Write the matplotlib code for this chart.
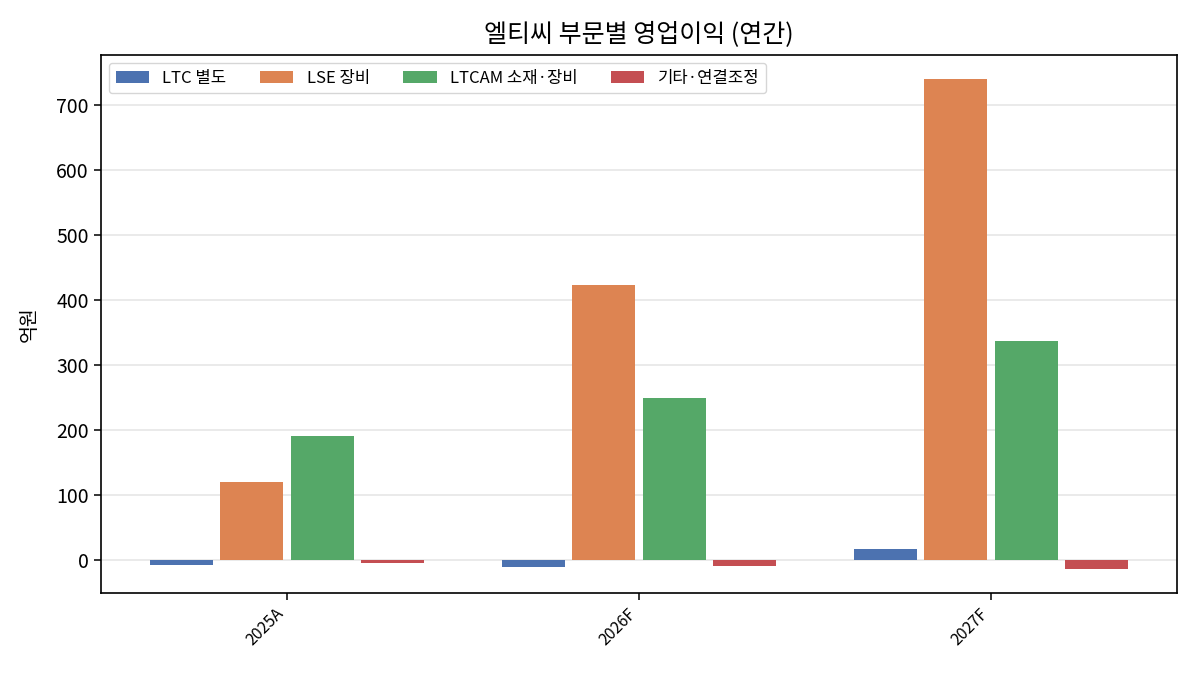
import matplotlib
matplotlib.use("Agg")
import matplotlib.pyplot as plt
import numpy as np

plt.rcParams['font.family'] = ['Noto Sans CJK KR', 'DejaVu Sans']
plt.rcParams['axes.unicode_minus'] = False

years = ["2025A", "2026F", "2027F"]
series_names = ["LTC 별도", "LSE 장비", "LTCAM 소재·장비", "기타·연결조정"]
ltc = [-8, -11, 17]
lse = [120, 423, 740]
ltcam = [191, 249, 337]
other = [-5, -9, -14]
values = [ltc, lse, ltcam, other]
colors = ["#4C72B0", "#DD8452", "#55A868", "#C44E52"]

fig, ax = plt.subplots(figsize=(12, 6.75), dpi=100)
fig.subplots_adjust(left=0.084, right=0.981, top=0.919, bottom=0.121)

x = np.arange(len(years))
w = 0.18
offsets = [-0.3, -0.1, 0.1, 0.3]
for name, vals, c, off in zip(series_names, values, colors, offsets):
    ax.bar(x + off, vals, width=w, color=c, label=name)

ax.set_xticks(x)
ax.set_xticklabels(years, rotation=45, ha='right', fontsize=11.5)
ax.tick_params(axis='y', labelsize=14)
ax.tick_params(axis='both', length=5, width=1.1)
ax.set_ylabel("억원", fontsize=14, labelpad=12)
ax.set_title("엘티씨 부문별 영업이익 (연간)", fontsize=18, pad=9)
ax.grid(axis='y', color='#e6e6e6', linewidth=1.2)
ax.set_axisbelow(True)
for s in ax.spines.values():
    s.set_linewidth(1.2)
ax.legend(loc='upper left', ncol=4, fontsize=12, frameon=True)

fig.savefig("out.png", dpi=100)
